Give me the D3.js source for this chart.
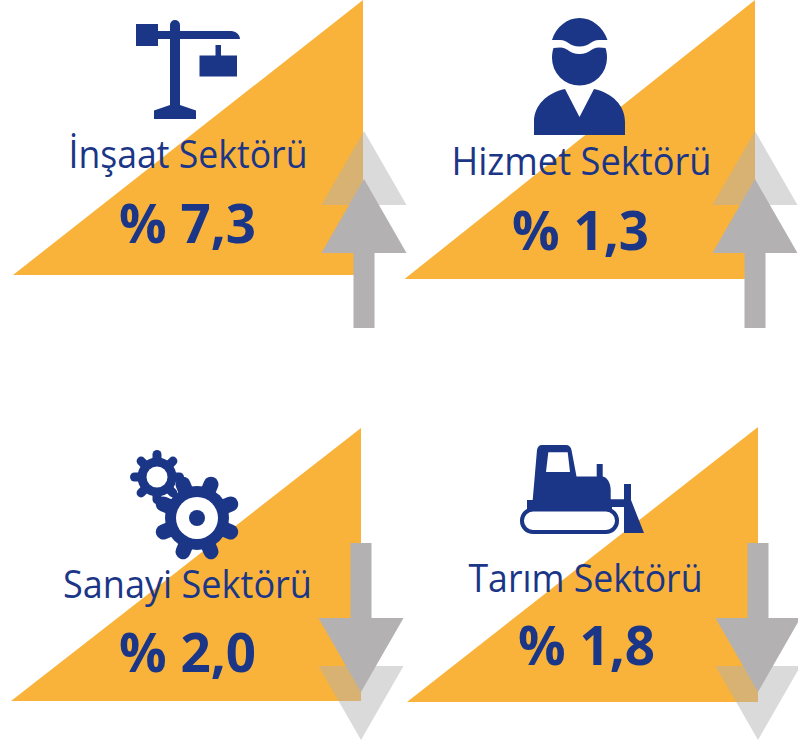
<!DOCTYPE html>
<html>
<head>
<meta charset="utf-8">
<script src="https://cdn.jsdelivr.net/npm/d3@7"></script>
<style>
    html, body { margin: 0; padding: 0; background: #fff; overflow: hidden; }
    svg { display: block; }
    text { font-family: "Open Sans", "Noto Sans", sans-serif; fill: #1b3687; text-anchor: middle; }
</style>
</head>
<body>
<div id="chart"></div>
<script>
// data
const sectors = ["İnşaat Sektörü", "Hizmet Sektörü", "Sanayi Sektörü", "Tarım Sektörü"];
const values = [7.3, 1.3, 2.0, 1.8];
const directions = ["up", "up", "down", "down"];
const icons = ["crane", "worker", "gears", "dozer"];

// layout of each panel
const triLeft = [13, 404.5, 11, 407];
const triRight = [363, 755, 361, 758];
const triTop = [0, 0, 428, 427];
const triBottom = [275, 279, 701, 702];
const arrowTip = [179, 179, 692, 692];
const labelX = [188, 581.5, 187.5, 585.5];
const labelY = [168, 175, 598, 592];
const labelW = [239, 260, 249, 234];
const valueX = [187.5, 580.5, 187.5, 586.5];
const valueY = [243, 250, 672, 665];

const W = 798, H = 743;
const orange = "#f9b33b", navy = "#1b3687", grey = "#b3b1b1";

const svg = d3.select("#chart").append("svg")
    .attr("width", W)
    .attr("height", H);

const line = d3.line();
const fmt = v => "% " + d3.format(".1f")(v).replace(".", ",");

// arrow pointing up when dir is 1, down when dir is -1
function arrowShape(cx, tip, dir, withShaft) {
    let head = 42.5, shaft = 10.5, base = tip + 74 * dir, end = tip + 149 * dir;
    let pts = [[cx, tip], [cx + head, base]];
    if (withShaft) {
        pts.push([cx + shaft, base], [cx + shaft, end], [cx - shaft, end], [cx - shaft, base]);
    }
    pts.push([cx - head, base]);
    return line(pts) + "Z";
}

const iconDraw = {
    crane: function (g) {
        g.append("path").attr("d",
            "M136,24H158V31H170V25A5,5 0 0 1 180,25V31H231C236,31 240,35 240,39H180V105L196,110.500V119H154V110.500L170,105V39H158V46H136Z");
        g.append("path").attr("d", "M215.500,45H221V55.500H237V76.500H199.500V55.500H215.500Z");
    },
    worker: function (g) {
        g.append("path").attr("d",
            "M552,40C556,27 567,18 579.500,18C592,18 603,27 607.500,40L599,40C591,40 590,46.500 579.500,46.500C569,46.500 568,40 560,40Z");
        g.append("path").attr("d",
            "M553.500,48L560,47.500C568,47.500 569,54 579.500,54C590,54 591,47.500 599,47.500L605.500,48C606.500,51 607,54 607,58A27.500,27.500 0 0 1 552,58C552,54 552.500,51 553.500,48Z");
        g.append("path").attr("d",
            "M534,135V122C534,105 547,93 565,89L579.500,117L594,89C612,93 625,105 625,122V135Z");
    },
    gears: function (g) {
        drawGear(g, 157, 477, 19.500, 22.500, 4.500, 0, 10.500);
        drawGear(g, 197, 518, 32, 36.500, 7.500, 22.500, 21);
        g.append("circle").attr("cx", 197).attr("cy", 518).attr("r", 8).attr("fill", navy);
    },
    dozer: function (g) {
        g.append("path").attr("fill-rule", "evenodd").attr("d",
            "M542,445H566C569,445 571,447 571.500,450L576.500,476.500H596.700V464H602.700V476.500C607,477 610.700,483 610.700,490V499.300H624V484H631V500L644,533H624V507H612V510H527V500H532.700L537,450C537.500,447 539,445 542,445Z" +
            "M548.300,452.300L546,472H570L567.700,452.300Z");
        g.append("rect")
            .attr("x", 522).attr("y", 509.500)
            .attr("width", 95).attr("height", 22.500)
            .attr("rx", 11)
            .attr("fill", "#fff")
            .attr("stroke", navy)
            .attr("stroke-width", 4);
    }
};

// gear = disc with round ended teeth and a white hole
function drawGear(g, cx, cy, r, toothLen, toothW, offset, hole) {
    g.append("circle").attr("cx", cx).attr("cy", cy).attr("r", r);
    g.selectAll(null)
        .data(d3.range(8))
        .enter()
        .append("line")
        .attr("x1", cx)
        .attr("y1", cy)
        .attr("x2", d => cx + toothLen * Math.cos((offset + d * 45) * Math.PI / 180))
        .attr("y2", d => cy + toothLen * Math.sin((offset + d * 45) * Math.PI / 180))
        .attr("stroke", navy)
        .attr("stroke-width", toothW * 2)
        .attr("stroke-linecap", "round");
    g.append("circle").attr("cx", cx).attr("cy", cy).attr("r", hole).attr("fill", "#fff");
}

sectors.forEach((s, i) => {
    let panel = svg.append("g").attr("class", "panel");
    let dir = directions[i] === "up" ? 1 : -1;
    let cx = triRight[i] + (i === 0 ? 1 : 0);

    // triangle
    panel.append("path")
        .attr("d", line([[triLeft[i], triBottom[i]], [triRight[i], triTop[i]], [triRight[i], triBottom[i]]]) + "Z")
        .attr("fill", orange);

    // faded arrow head, then the solid arrow
    panel.append("path")
        .attr("d", arrowShape(cx, arrowTip[i] - 48 * dir, dir, false))
        .attr("fill", grey)
        .attr("opacity", 0.47);
    panel.append("path")
        .attr("d", arrowShape(cx, arrowTip[i], dir, true))
        .attr("fill", grey);

    // icon
    let icon = panel.append("g").attr("fill", navy);
    iconDraw[icons[i]](icon);

    // texts
    panel.append("text")
        .attr("x", labelX[i])
        .attr("y", labelY[i])
        .attr("font-size", 37.5)
        .attr("textLength", labelW[i])
        .attr("lengthAdjust", "spacingAndGlyphs")
        .text(s);
    panel.append("text")
        .attr("x", valueX[i])
        .attr("y", valueY[i])
        .attr("font-size", 53)
        .attr("font-weight", 700)
        .attr("textLength", 137)
        .attr("lengthAdjust", "spacingAndGlyphs")
        .text(fmt(values[i]));
});
</script>
</body>
</html>
